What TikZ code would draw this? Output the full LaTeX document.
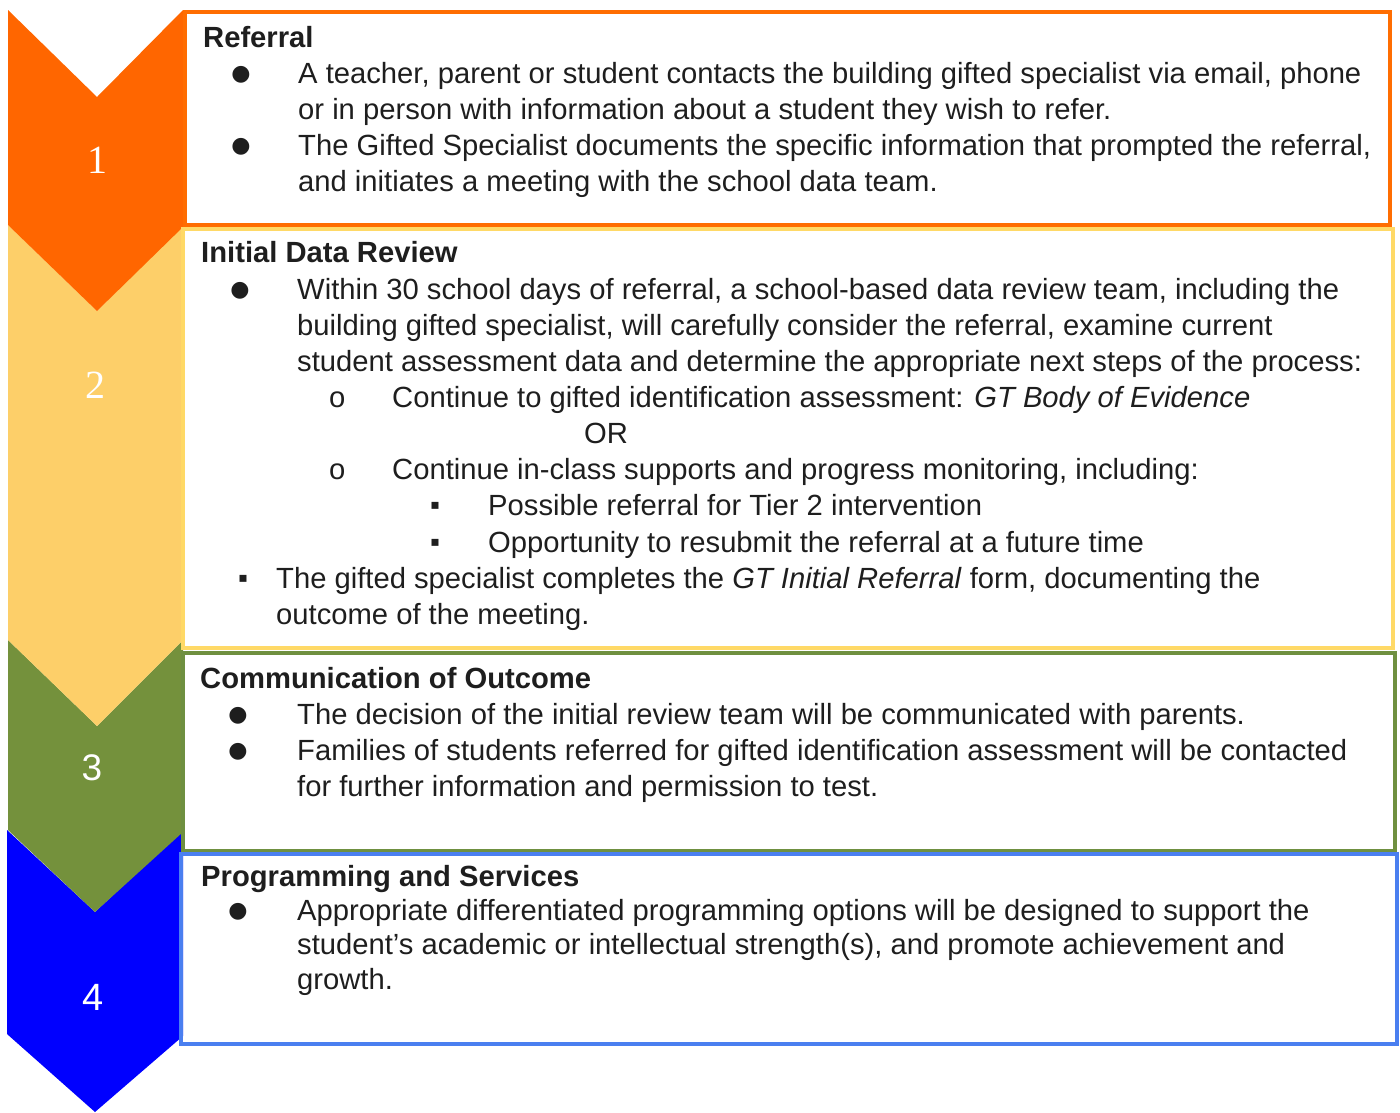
\documentclass[tikz,border=0pt]{standalone}
\usepackage{fontspec}
\setmainfont{Liberation Sans}
\newfontfamily\numserif{Liberation Serif}
\newfontfamily\symfont{DejaVu Sans}
\definecolor{orangeC}{HTML}{FF6600}
\definecolor{orangeB}{HTML}{FF6D01}
\definecolor{yellowC}{HTML}{FDCF69}
\definecolor{yellowB}{HTML}{FFD966}
\definecolor{greenC}{HTML}{74913C}
\definecolor{greenB}{HTML}{6F9040}
\definecolor{blueC}{HTML}{0000FF}
\definecolor{blueB}{HTML}{4A7FF0}
\definecolor{textgray}{HTML}{1E1E1E}

\begin{document}
\begin{tikzpicture}[x=1pt,y=-1pt]
\tikzstyle{headlabel} = [anchor=base west,inner sep=0pt,text=textgray,font=\bfseries\fontsize{29.2}{36}\selectfont]
\tikzstyle{itemtext} = [anchor=base west,inner sep=0pt,align=left,text=textgray,font=\fontsize{29.2}{36}\selectfont]
\tikzstyle{dotmark} = [inner sep=0pt,text=textgray,font=\symfont\fontsize{22}{22}\selectfont]
\tikzstyle{sqmark} = [inner sep=0pt,text=textgray,font=\symfont\fontsize{14}{14}\selectfont]
\tikzstyle{stepbox} = [line width=3.5pt]
\useasboundingbox (0,0) rectangle (1400,1112);

% chevrons
\fill[blueC] (7,830) -- (95,912) -- (183,830) -- (183,1036) -- (95,1112) -- (7,1034) -- cycle;
\fill[greenC] (8,640) -- (97,726) -- (183,640) -- (183,832) -- (95,912) -- (8,830) -- cycle;
\fill[yellowC] (8,225) -- (97,311) -- (183,225) -- (183,640) -- (97,726) -- (8,640) -- cycle;
\fill[orangeC] (8,10) -- (97,97) -- (183,10) -- (185,225) -- (97,311) -- (8,225) -- cycle;

\node[white,font=\numserif\fontsize{40}{40}\selectfont] (n1) at (97,160) {1};
\node[white,font=\numserif\fontsize{40}{40}\selectfont] (n2) at (95,385) {2};
\node[white,font=\fontsize{37}{37}\selectfont] (n3) at (92,768) {3};
\node[white,font=\fontsize{38}{38}\selectfont] (n4) at (93,997) {4};

% boxes
\draw[stepbox,orangeB] (185,12) rectangle (1390,225);
\draw[stepbox,yellowB] (183,229) rectangle (1393,648);
\draw[stepbox,greenB] (183,653) rectangle (1395,851);
\draw[stepbox,blueB] (181,854) rectangle (1397,1044);

% step 1 (multi-line texts sit on their last baseline)
\node[headlabel] (ref) at (203,47) {Referral};
\node[dotmark] (ref-d1) at (241,75) {●};
\node[itemtext] (ref-t1) at (298,119) {A teacher, parent or student contacts the building gifted specialist via email, phone\\or in person with information about a student they wish to refer.};
\node[dotmark] (ref-d2) at (241,147) {●};
\node[itemtext] (ref-t2) at (298,191) {The Gifted Specialist documents the specific information that prompted the referral,\\and initiates a meeting with the school data team.};

% step 2
\node[headlabel] (idr) at (201,262) {Initial Data Review};
\node[dotmark] (idr-d1) at (240,291) {●};
\node[itemtext] (idr-t1) at (297,371) {Within 30 school days of referral, a school-based data review team, including the\\building gifted specialist, will carefully consider the referral, examine current\\student assessment data and determine the appropriate next steps of the process:};
\node[itemtext] (idr-o1) at (329,407) {o};
\node[itemtext] (idr-s1) at (392,407) {Continue to gifted identification assessment: \textit{GT Body of Evidence}};
\node[itemtext] (idr-or) at (584,443) {OR};
\node[itemtext] (idr-o2) at (329,479) {o};
\node[itemtext] (idr-s2) at (392,479) {Continue in-class supports and progress monitoring, including:};
\node[sqmark] (idr-q1) at (435,506) {▪};
\node[itemtext] (idr-u1) at (488,515) {Possible referral for Tier 2 intervention};
\node[sqmark] (idr-q2) at (435,543) {▪};
\node[itemtext] (idr-u2) at (488,552) {Opportunity to resubmit the referral at a future time};
\node[sqmark] (idr-q3) at (243,579) {▪};
\node[itemtext] (idr-t2) at (276,624) {The gifted specialist completes the \textit{GT Initial Referral} form, documenting the\\outcome of the meeting.};

% step 3
\node[headlabel] (com) at (200,688) {Communication of Outcome};
\node[dotmark] (com-d1) at (238,716) {●};
\node[itemtext] (com-t1) at (297,724) {The decision of the initial review team will be communicated with parents.};
\node[dotmark] (com-d2) at (238,752) {●};
\node[itemtext] (com-t2) at (297,796) {Families of students referred for gifted identification assessment will be contacted\\for further information and permission to test.};

% step 4
\node[headlabel] (prg) at (201,886) {Programming and Services};
\node[dotmark] (prg-d1) at (238,912) {●};
\node[itemtext,font=\fontsize{29.2}{34.5}\selectfont] (prg-t1) at (297,989) {Appropriate differentiated programming options will be designed to support the\\student’s academic or intellectual strength(s), and promote achievement and\\growth.};
\end{tikzpicture}
\end{document}
